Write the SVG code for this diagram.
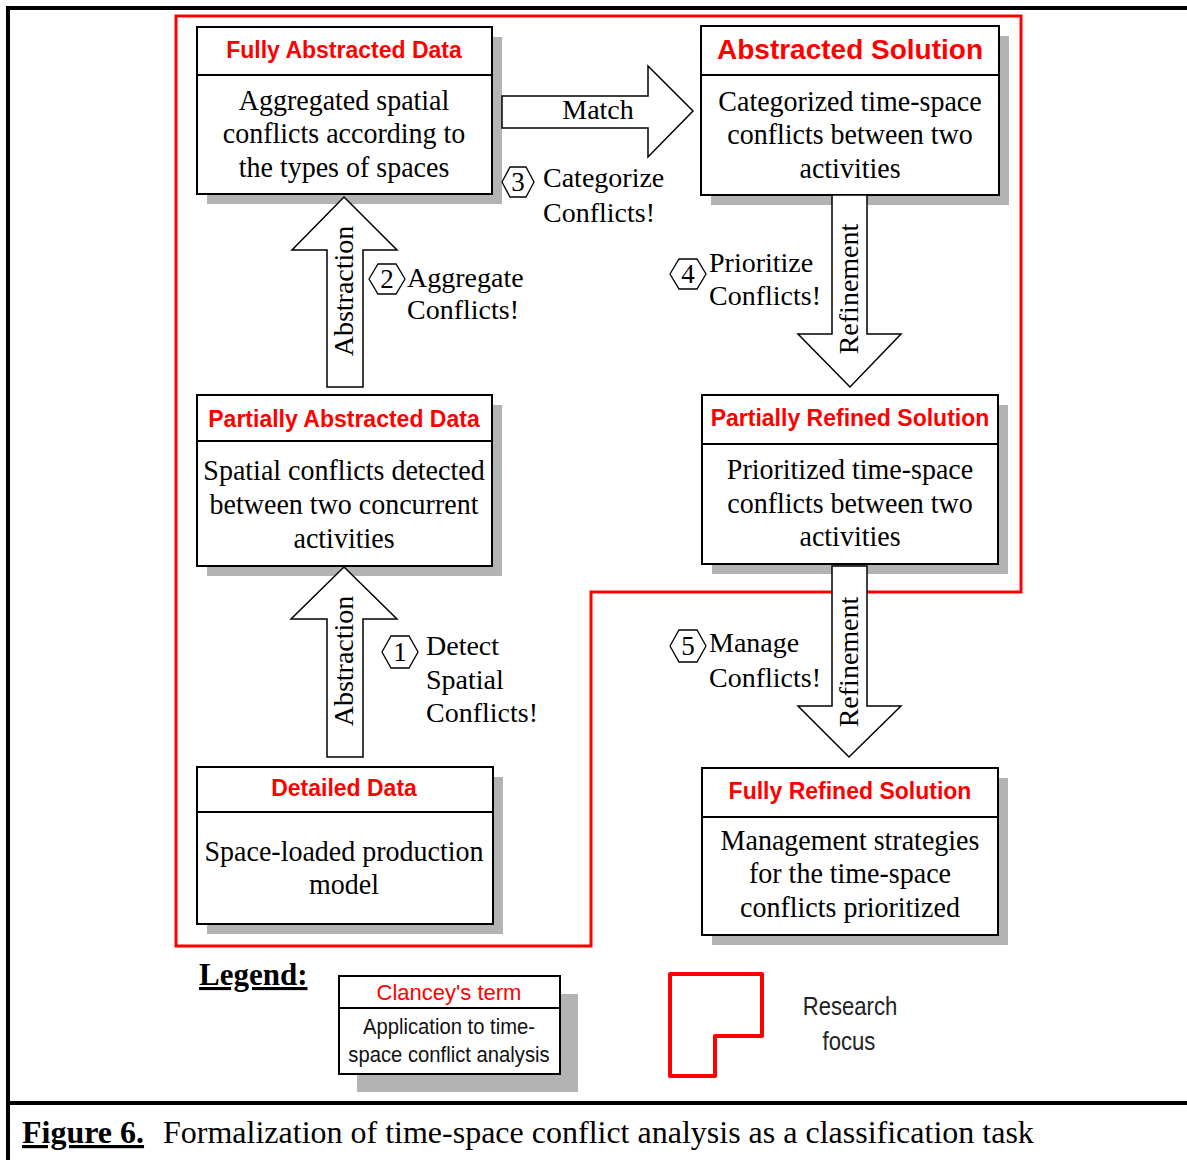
<svg xmlns="http://www.w3.org/2000/svg" width="1187" height="1160" viewBox="0 0 1187 1160">
<defs>
<style>
.box{fill:#fff;stroke:#000;stroke-width:2}
.shadow{fill:#b3b3b3}
.div{stroke:#000;stroke-width:2}
.hd{font-family:"Liberation Sans",Arial,sans-serif;font-weight:bold;font-size:23px;fill:#ff0000;text-anchor:middle}
.bd{font-family:"Liberation Serif","Times New Roman",serif;font-size:28px;fill:#000;text-anchor:middle}
.lbl{font-family:"Liberation Serif","Times New Roman",serif;font-size:28px;fill:#000}
.arr{fill:#fff;stroke:#000;stroke-width:1.5;stroke-linejoin:miter}
.hex{fill:#fff;stroke:#000;stroke-width:1.3}
.num{font-family:"Liberation Serif","Times New Roman",serif;font-size:27px;fill:#000;text-anchor:middle}
.frame{stroke:#000;stroke-width:4;fill:none}
.rf{font-family:"Liberation Sans",Arial,sans-serif;font-size:26px;fill:#222;text-anchor:middle}
</style>
</defs>
<rect width="1187" height="1160" fill="#fff"/>
<g id="frame">
<line class="frame" x1="6" y1="8" x2="1187" y2="8"/>
<line class="frame" x1="8" y1="6" x2="8" y2="1160"/>
<line class="frame" x1="8" y1="1103" x2="1187" y2="1103"/>
</g>
<g id="research-focus">
<polygon points="176,16 1021,16 1021,592 591,592 591,946 176,946" fill="none" stroke="#ff0000" stroke-width="3"/>
</g>
<g id="fully-abstracted-data">
<rect class="shadow" x="207" y="37" width="295" height="167"/>
<rect class="box" x="197" y="27" width="295" height="167"/>
<line class="div" x1="197" y1="75" x2="492" y2="75"/>
<text class="hd" x="344" y="58">Fully Abstracted Data</text>
<text class="bd" transform="matrix(1 0 0 1.08 344 110)">Aggregated spatial</text>
<text class="bd" transform="matrix(1 0 0 1.08 344 143)">conflicts according to</text>
<text class="bd" transform="matrix(1 0 0 1.08 344 177)">the types of spaces</text>
</g>
<g id="abstracted-solution">
<rect class="shadow" x="711" y="36" width="298" height="169"/>
<rect class="box" x="701" y="26" width="298" height="169"/>
<line class="div" x1="701" y1="75" x2="999" y2="75"/>
<text class="hd" x="850" y="59" style="font-size:28px">Abstracted Solution</text>
<text class="bd" transform="matrix(1 0 0 1.08 850 111)">Categorized time-space</text>
<text class="bd" transform="matrix(1 0 0 1.08 850 144)">conflicts between two</text>
<text class="bd" transform="matrix(1 0 0 1.08 850 178)">activities</text>
</g>
<g id="partially-abstracted-data">
<rect class="shadow" x="207" y="405" width="295" height="171"/>
<rect class="box" x="197" y="395" width="295" height="171"/>
<line class="div" x1="197" y1="441" x2="492" y2="441"/>
<text class="hd" x="344" y="427">Partially Abstracted Data</text>
<text class="bd" transform="matrix(1 0 0 1.08 344 480)">Spatial conflicts detected</text>
<text class="bd" transform="matrix(1 0 0 1.08 344 514)">between two concurrent</text>
<text class="bd" transform="matrix(1 0 0 1.08 344 548)">activities</text>
</g>
<g id="partially-refined-solution">
<rect class="shadow" x="712" y="405" width="296" height="169"/>
<rect class="box" x="702" y="395" width="296" height="169"/>
<line class="div" x1="702" y1="444" x2="998" y2="444"/>
<text class="hd" x="850" y="426">Partially Refined Solution</text>
<text class="bd" transform="matrix(1 0 0 1.08 850 479)">Prioritized time-space</text>
<text class="bd" transform="matrix(1 0 0 1.08 850 513)">conflicts between two</text>
<text class="bd" transform="matrix(1 0 0 1.08 850 546)">activities</text>
</g>
<g id="detailed-data">
<rect class="shadow" x="207" y="777" width="296" height="157"/>
<rect class="box" x="197" y="767" width="296" height="157"/>
<line class="div" x1="197" y1="812" x2="493" y2="812"/>
<text class="hd" x="344" y="796">Detailed Data</text>
<text class="bd" transform="matrix(1 0 0 1.08 344 861)">Space-loaded production</text>
<text class="bd" transform="matrix(1 0 0 1.08 344 894)">model</text>
</g>
<g id="fully-refined-solution">
<rect class="shadow" x="712" y="778" width="296" height="167"/>
<rect class="box" x="702" y="768" width="296" height="167"/>
<line class="div" x1="702" y1="817" x2="998" y2="817"/>
<text class="hd" x="850" y="799">Fully Refined Solution</text>
<text class="bd" transform="matrix(1 0 0 1.08 850 850)">Management strategies</text>
<text class="bd" transform="matrix(1 0 0 1.08 850 883)">for the time-space</text>
<text class="bd" transform="matrix(1 0 0 1.08 850 917)">conflicts prioritized</text>
</g>
<g id="connectors">
<polygon class="arr" points="502,96 648,96 648,66 693,111 648,157 648,128 502,128"/>
<text class="lbl" x="598" y="119" text-anchor="middle">Match</text>
<polygon class="arr" points="327,387 327,250 292,250 344,197 397,250 363,250 363,387"/>
<text class="lbl" transform="translate(353 291) rotate(-90)" text-anchor="middle">Abstraction</text>
<polygon class="arr" points="327,757 327,619 291,619 344,567 397,619 363,619 363,757"/>
<text class="lbl" transform="translate(353 661) rotate(-90)" text-anchor="middle">Abstraction</text>
<polygon class="arr" points="832,195 867,195 867,334 901,334 850,387 798,334 832,334"/>
<text class="lbl" transform="translate(858 289) rotate(-90)" text-anchor="middle">Refinement</text>
<polygon class="arr" points="832,566 867,566 867,706 901,706 849,757 798,706 832,706"/>
<text class="lbl" transform="translate(858 662) rotate(-90)" text-anchor="middle">Refinement</text>
</g>
<g id="step1">
<polygon class="hex" points="382,652 391,636 409,636 418,652 409,668 391,668"/>
<text class="num" x="400" y="661">1</text>
<text class="lbl" x="426" y="655">Detect</text>
<text class="lbl" x="426" y="689">Spatial</text>
<text class="lbl" x="426" y="722">Conflicts!</text>
</g>
<g id="step2">
<polygon class="hex" points="369,279 378,264 396,264 405,279 396,294 378,294"/>
<text class="num" x="387" y="288">2</text>
<text class="lbl" x="407" y="287">Aggregate</text>
<text class="lbl" x="407" y="319">Conflicts!</text>
</g>
<g id="step3">
<polygon class="hex" points="502,182 510,167 526,167 534,182 526,197 510,197"/>
<text class="num" x="518" y="191">3</text>
<text class="lbl" x="543" y="187">Categorize</text>
<text class="lbl" x="543" y="222">Conflicts!</text>
</g>
<g id="step4">
<polygon class="hex" points="670,274 679,259 697,259 706,274 697,289 679,289"/>
<text class="num" x="688" y="283">4</text>
<text class="lbl" x="709" y="272">Prioritize</text>
<text class="lbl" x="709" y="305">Conflicts!</text>
</g>
<g id="step5">
<polygon class="hex" points="670,646 679,630 697,630 706,646 697,662 679,662"/>
<text class="num" x="688" y="655">5</text>
<text class="lbl" x="709" y="652">Manage</text>
<text class="lbl" x="709" y="687">Conflicts!</text>
</g>
<g id="legend">
<text x="199" y="985" style="font-family:'Liberation Serif','Times New Roman',serif;font-weight:bold;font-size:31px;text-decoration:underline">Legend:</text>
<rect class="shadow" x="357" y="994" width="221" height="98"/>
<rect class="box" x="339" y="976" width="221" height="98"/>
<line class="div" x1="339" y1="1008" x2="560" y2="1008"/>
<text x="449" y="1000" style="font-family:'Liberation Sans',Arial,sans-serif;font-size:22px;fill:#ff0000;text-anchor:middle">Clancey's term</text>
<text transform="matrix(0.92 0 0 1 449 1034)" style="font-family:'Liberation Sans',Arial,sans-serif;font-size:22px;fill:#111;text-anchor:middle">Application to time-</text>
<text transform="matrix(0.92 0 0 1 449 1062)" style="font-family:'Liberation Sans',Arial,sans-serif;font-size:22px;fill:#111;text-anchor:middle">space conflict analysis</text>
</g>
<g id="legend-research-focus">
<polygon points="670,974 762,974 762,1036 715,1036 715,1076 670,1076" fill="none" stroke="#ff0000" stroke-width="4" stroke-linejoin="round"/>
<text class="rf" transform="matrix(0.85 0 0 1 850 1015)">Research</text>
<text class="rf" transform="matrix(0.85 0 0 1 849 1050)">focus</text>
</g>
<g id="caption">
<text x="22" y="1143" style="font-family:'Liberation Serif','Times New Roman',serif;font-weight:bold;font-size:32px;text-decoration:underline">Figure 6.</text>
<text x="163" y="1143" style="font-family:'Liberation Serif','Times New Roman',serif;font-size:32px">Formalization of time-space conflict analysis as a classification task</text>
</g>
</svg>
